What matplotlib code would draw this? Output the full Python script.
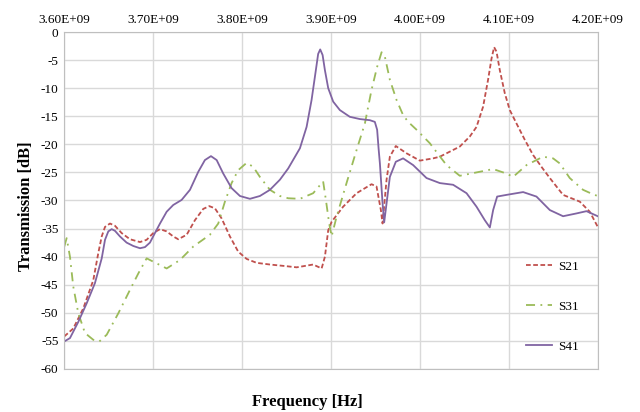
import numpy as np
import matplotlib
matplotlib.use('Agg')
import matplotlib.pyplot as plt
from matplotlib.ticker import FuncFormatter

plt.rcParams['font.family'] = 'Liberation Serif'
plt.rcParams['axes.unicode_minus'] = False

# traced curves, frequency in GHz, transmission in dB
f_s21 = [3.6003, 3.6104, 3.6217, 3.6329, 3.6385, 3.6424, 3.6461, 3.6517, 3.6573, 3.6648,
         3.6742, 3.6854, 3.6929, 3.7003, 3.7079, 3.7154, 3.7228, 3.7284, 3.7379, 3.7472,
         3.7565, 3.7633, 3.7697, 3.7772, 3.7865, 3.7958, 3.8053, 3.8165, 3.8315, 3.8502,
         3.8615, 3.8801, 3.8896, 3.8933, 3.8970, 3.9008, 3.9138, 3.9289, 3.9457, 3.9513,
         3.9562, 3.9581, 3.9626, 3.9663, 3.9730, 3.9851, 4.0000, 4.0149, 4.0225, 4.0337,
         4.0449, 4.0562, 4.0637, 4.0711, 4.0767, 4.0806, 4.0835, 4.0862, 4.0899, 4.0955,
         4.1011, 4.1087, 4.1180, 4.1273, 4.1367, 4.1461, 4.1610, 4.1798, 4.1910, 4.2000]
s21 = [-54.2, -52.8, -49.2, -44.2, -39.4, -36.4, -34.7, -34.1, -34.5, -35.8,
       -36.9, -37.4, -37.0, -35.8, -35.1, -35.5, -36.4, -36.9, -36.1, -33.5,
       -31.5, -31.0, -31.4, -33.2, -36.4, -39.1, -40.4, -41.1, -41.4, -41.7,
       -41.9, -41.4, -42.1, -40.0, -35.3, -33.8, -31.1, -28.7, -27.1, -27.5,
       -31.7, -34.1, -26.3, -22.2, -20.3, -21.6, -22.9, -22.5, -22.2, -21.3,
       -20.4, -18.6, -16.9, -13.3, -8.5, -4.7, -2.7, -3.5, -6.8, -10.9,
       -13.9, -16.3, -19.2, -21.9, -24.0, -26.0, -29.0, -30.2, -32.0, -34.7]

f_s31 = [3.6003, 3.6030, 3.6067, 3.6104, 3.6161, 3.6236, 3.6329, 3.6397, 3.6480, 3.6610,
         3.6742, 3.6835, 3.6929, 3.7042, 3.7154, 3.7303, 3.7453, 3.7640, 3.7734, 3.7809,
         3.7884, 3.7958, 3.8053, 3.8127, 3.8202, 3.8315, 3.8427, 3.8520, 3.8652, 3.8801,
         3.8913, 3.8944, 3.8981, 3.9008, 3.9064, 3.9176, 3.9289, 3.9382, 3.9457, 3.9520,
         3.9570, 3.9607, 3.9663, 3.9738, 3.9812, 3.9869, 3.9963, 4.0112, 4.0300, 4.0449,
         4.0637, 4.0824, 4.0974, 4.1048, 4.1199, 4.1385, 4.1498, 4.1573, 4.1685, 4.1835,
         4.1947, 4.2000]
s31 = [-38.2, -36.7, -40.0, -45.3, -50.1, -53.6, -54.8, -55.1, -53.9, -50.1,
       -45.9, -43.0, -40.3, -41.2, -42.1, -40.6, -38.2, -36.1, -34.1, -30.2,
       -26.9, -24.6, -23.3, -24.0, -25.8, -28.1, -29.2, -29.6, -29.7, -28.7,
       -26.6, -29.9, -34.1, -36.4, -32.9, -26.9, -21.0, -16.3, -10.3, -6.2,
       -3.6, -4.4, -8.5, -12.1, -14.8, -16.0, -17.4, -19.8, -23.7, -25.6,
       -25.0, -24.4, -25.2, -25.8, -23.7, -22.2, -22.5, -23.4, -26.0, -28.1,
       -28.9, -29.2]

f_s41 = [3.6003, 3.6067, 3.6161, 3.6255, 3.6348, 3.6424, 3.6461, 3.6498, 3.6536, 3.6573,
         3.6629, 3.6704, 3.6779, 3.6854, 3.6910, 3.6966, 3.7022, 3.7079, 3.7154, 3.7228,
         3.7322, 3.7416, 3.7509, 3.7584, 3.7652, 3.7716, 3.7790, 3.7884, 3.7978, 3.8090,
         3.8202, 3.8315, 3.8427, 3.8520, 3.8652, 3.8727, 3.8783, 3.8831, 3.8857, 3.8880,
         3.8907, 3.8933, 3.8970, 3.9026, 3.9101, 3.9213, 3.9326, 3.9438, 3.9494, 3.9520,
         3.9536, 3.9551, 3.9581, 3.9599, 3.9626, 3.9663, 3.9730, 3.9812, 3.9925, 4.0075,
         4.0225, 4.0374, 4.0525, 4.0637, 4.0730, 4.0787, 4.0824, 4.0869, 4.0974, 4.1161,
         4.1311, 4.1461, 4.1610, 4.1761, 4.1873, 4.2000]
s41 = [-55.1, -54.5, -51.6, -48.3, -44.7, -40.3, -37.0, -35.5, -35.1, -35.4,
       -36.4, -37.5, -38.1, -38.5, -38.3, -37.5, -35.8, -34.1, -32.0, -30.8,
       -29.9, -28.1, -24.9, -22.8, -22.1, -22.8, -25.2, -27.8, -29.2, -29.7,
       -29.2, -28.1, -26.3, -24.3, -20.7, -16.9, -12.1, -6.8, -3.9, -3.1,
       -4.1, -6.8, -10.0, -12.4, -13.9, -15.1, -15.5, -15.7, -16.0, -17.4,
       -20.7, -23.4, -30.5, -33.9, -30.5, -25.8, -23.1, -22.5, -23.7, -26.0,
       -26.9, -27.2, -28.7, -31.1, -33.5, -34.8, -31.7, -29.3, -29.0, -28.5,
       -29.3, -31.7, -32.8, -32.3, -31.9, -32.8]

fig = plt.figure(figsize=(6.4, 4.12), dpi=100)
ax = fig.add_axes([0.1, 0.1044, 0.834, 0.8179])

ax.plot(np.array(f_s21) * 1e9, s21, color='#C0504D', lw=1.3, dashes=(2.6, 1.4), label='S21')
ax.plot(np.array(f_s31) * 1e9, s31, color='#9BBB59', lw=1.3, dashes=(5, 3, 1, 3), label='S31')
ax.plot(np.array(f_s41) * 1e9, s41, color='#8064A2', lw=1.3, label='S41')

ax.set_xlim(3.6e9, 4.2e9)
ax.set_ylim(-60, 0)
ax.set_xticks(np.arange(3.6e9, 4.2e9 + 1, 0.1e9))
ax.set_yticks(np.arange(-60, 1, 5))
ax.xaxis.set_major_formatter(FuncFormatter(lambda x, p: '%.2E' % x))
ax.xaxis.tick_top()
ax.tick_params(axis='both', length=0, labelsize=9.5, pad=4)
ax.grid(color='#D9D9D9', lw=1)
for s in ax.spines.values():
    s.set_color('#BFBFBF')

fig.text(0.48, 0.025, 'Frequency [Hz]', ha='center', va='center', fontsize=12, fontweight='bold')
fig.text(0.04, 0.5, 'Transmission [dB]', ha='center', va='center', rotation=90,
         fontsize=12, fontweight='bold')

leg = ax.legend(loc='center left', bbox_to_anchor=(526 / 640, 0.255), bbox_transform=fig.transFigure,
                frameon=False, fontsize=9.5, labelspacing=2.1, handlelength=2.0,
                handletextpad=0.4, borderpad=0, borderaxespad=0)

fig.savefig('out.png', dpi=100)
